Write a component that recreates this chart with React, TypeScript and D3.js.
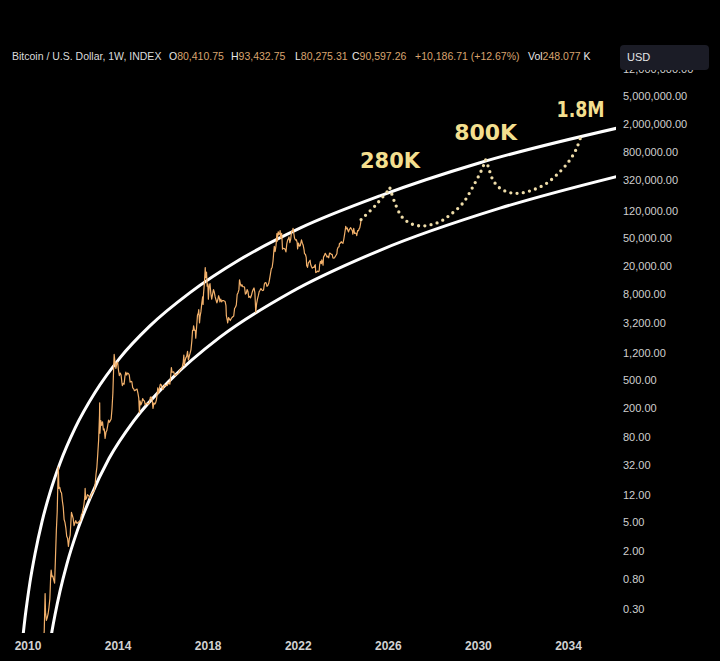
import React, { useEffect } from 'react';
import * as d3 from 'd3';

const W = 720;
const H = 661;

// Weekly-ish BTC/USD price history
const PRICE: [string, number][] = [
  ['2010-07-18', 0.06], ['2010-08-15', 0.07], ['2010-09-15', 0.06], ['2010-10-10', 0.1], ['2010-10-24', 0.15],
  ['2010-11-07', 0.5], ['2010-11-14', 0.27], ['2010-11-28', 0.21], ['2010-12-12', 0.23], ['2010-12-26', 0.26],
  ['2011-01-09', 0.32], ['2011-01-23', 0.42], ['2011-02-06', 0.9], ['2011-02-13', 1.07], ['2011-02-27', 0.86],
  ['2011-03-13', 0.88], ['2011-03-27', 0.78], ['2011-04-10', 0.7], ['2011-04-24', 1.6], ['2011-05-08', 3.8],
  ['2011-05-22', 7.0], ['2011-06-02', 18], ['2011-06-09', 30], ['2011-06-19', 15], ['2011-07-03', 15.5],
  ['2011-07-17', 13.5], ['2011-07-31', 13], ['2011-08-14', 10], ['2011-08-28', 8.2], ['2011-09-11', 5.5],
  ['2011-09-25', 5], ['2011-10-09', 4.2], ['2011-10-23', 3.2], ['2011-11-06', 3.0], ['2011-11-20', 2.3],
  ['2011-12-04', 2.9], ['2011-12-18', 3.3], ['2012-01-08', 6.9], ['2012-01-22', 6.3], ['2012-02-05', 5.7],
  ['2012-02-19', 4.5], ['2012-03-04', 4.9], ['2012-03-18', 5.3], ['2012-04-01', 4.9], ['2012-04-15', 4.9],
  ['2012-05-06', 5.1], ['2012-05-20', 5.1], ['2012-06-03', 5.3], ['2012-06-17', 6.4], ['2012-07-01', 6.7],
  ['2012-07-15', 7.6], ['2012-07-29', 9.0], ['2012-08-12', 11.5], ['2012-08-17', 15], ['2012-08-26', 10.5],
  ['2012-09-09', 11], ['2012-09-23', 12.3], ['2012-10-07', 12], ['2012-10-21', 11.6], ['2012-11-04', 10.8],
  ['2012-11-18', 11.8], ['2012-12-02', 12.6], ['2012-12-16', 13.3], ['2012-12-30', 13.5], ['2013-01-13', 14.2],
  ['2013-01-27', 17.5], ['2013-02-10', 24], ['2013-02-24', 30], ['2013-03-10', 46], ['2013-03-24', 72],
  ['2013-04-07', 160], ['2013-04-10', 240], ['2013-04-14', 90], ['2013-04-28', 135], ['2013-05-12', 116],
  ['2013-05-26', 130], ['2013-06-09', 100], ['2013-06-23', 103], ['2013-07-07', 76], ['2013-07-21', 93],
  ['2013-08-04', 98], ['2013-08-18', 115], ['2013-09-01', 137], ['2013-09-15', 128], ['2013-09-29', 135],
  ['2013-10-13', 142], ['2013-10-27', 200], ['2013-11-10', 330], ['2013-11-24', 820], ['2013-12-01', 1150],
  ['2013-12-15', 880], ['2013-12-29', 730], ['2014-01-12', 860], ['2014-01-26', 900], ['2014-02-09', 690],
  ['2014-02-23', 580], ['2014-03-09', 630], ['2014-03-23', 590], ['2014-04-06', 460], ['2014-04-13', 420],
  ['2014-04-27', 450], ['2014-05-11', 440], ['2014-05-25', 570], ['2014-06-08', 650], ['2014-06-22', 590],
  ['2014-07-06', 630], ['2014-07-20', 620], ['2014-08-03', 590], ['2014-08-17', 470], ['2014-08-31', 480],
  ['2014-09-14', 475], ['2014-09-28', 390], ['2014-10-12', 380], ['2014-10-26', 355], ['2014-11-09', 360],
  ['2014-11-23', 370], ['2014-12-07', 375], ['2014-12-21', 330], ['2015-01-04', 280], ['2015-01-14', 175],
  ['2015-01-25', 255], ['2015-02-08', 225], ['2015-02-22', 240], ['2015-03-08', 275], ['2015-03-22', 260],
  ['2015-04-05', 255], ['2015-04-19', 225], ['2015-05-03', 235], ['2015-05-17', 237], ['2015-05-31', 230],
  ['2015-06-14', 232], ['2015-06-28', 245], ['2015-07-12', 290], ['2015-07-26', 290], ['2015-08-09', 265],
  ['2015-08-23', 200], ['2015-09-06', 240], ['2015-09-20', 230], ['2015-10-04', 240], ['2015-10-18', 265],
  ['2015-11-01', 330], ['2015-11-08', 390], ['2015-11-22', 325], ['2015-12-06', 390], ['2015-12-20', 440],
  ['2016-01-03', 430], ['2016-01-17', 390], ['2016-01-31', 370], ['2016-02-14', 400], ['2016-02-28', 430],
  ['2016-03-13', 415], ['2016-03-27', 425], ['2016-04-10', 420], ['2016-04-24', 455], ['2016-05-08', 460],
  ['2016-05-22', 440], ['2016-06-05', 575], ['2016-06-16', 750], ['2016-06-26', 650], ['2016-07-10', 650],
  ['2016-07-24', 655], ['2016-08-07', 590], ['2016-08-21', 580], ['2016-09-04', 610], ['2016-09-18', 610],
  ['2016-10-02', 615], ['2016-10-16', 640], ['2016-10-30', 700], ['2016-11-13', 705], ['2016-11-27', 735],
  ['2016-12-11', 780], ['2016-12-25', 900], ['2017-01-04', 1130], ['2017-01-11', 800], ['2017-01-22', 920],
  ['2017-02-05', 1030], ['2017-02-19', 1080], ['2017-03-05', 1270], ['2017-03-19', 960], ['2017-04-02', 1090],
  ['2017-04-16', 1200], ['2017-04-30', 1350], ['2017-05-14', 1800], ['2017-05-25', 2500], ['2017-06-04', 2500],
  ['2017-06-11', 2900], ['2017-06-25', 2500], ['2017-07-09', 2500], ['2017-07-16', 1950], ['2017-07-30', 2800],
  ['2017-08-13', 4100], ['2017-08-27', 4400], ['2017-09-03', 4900], ['2017-09-15', 3200], ['2017-09-24', 3900],
  ['2017-10-08', 4600], ['2017-10-22', 6000], ['2017-11-05', 7400], ['2017-11-12', 5800], ['2017-11-19', 8200],
  ['2017-11-26', 9700], ['2017-12-03', 11500], ['2017-12-17', 19200], ['2017-12-24', 13800], ['2017-12-31', 14000],
  ['2018-01-07', 16500], ['2018-01-17', 10500], ['2018-01-28', 11200], ['2018-02-06', 6900], ['2018-02-18', 10400],
  ['2018-03-04', 11400], ['2018-03-18', 8200], ['2018-04-01', 6900], ['2018-04-15', 8100], ['2018-04-29', 9400],
  ['2018-05-13', 8600], ['2018-05-27', 7400], ['2018-06-10', 6700], ['2018-06-24', 6100], ['2018-07-08', 6700],
  ['2018-07-22', 7700], ['2018-08-05', 7000], ['2018-08-12', 6300], ['2018-08-26', 6900], ['2018-09-09', 6300],
  ['2018-09-23', 6600], ['2018-10-07', 6600], ['2018-10-21', 6500], ['2018-11-04', 6400], ['2018-11-18', 5600],
  ['2018-11-25', 4000], ['2018-12-09', 3500], ['2018-12-16', 3200], ['2018-12-30', 3800], ['2019-01-13', 3600],
  ['2019-01-27', 3450], ['2019-02-10', 3650], ['2019-02-24', 3800], ['2019-03-10', 3900], ['2019-03-24', 3990],
  ['2019-04-07', 5100], ['2019-04-21', 5300], ['2019-05-05', 5700], ['2019-05-19', 8000], ['2019-06-02', 8500],
  ['2019-06-16', 9300], ['2019-06-26', 12900], ['2019-07-07', 11500], ['2019-07-21', 10500], ['2019-08-04', 11000],
  ['2019-08-18', 10300], ['2019-09-01', 10300], ['2019-09-15', 10200], ['2019-09-29', 8100], ['2019-10-13', 8300],
  ['2019-10-27', 9400], ['2019-11-10', 8800], ['2019-11-24', 7300], ['2019-12-08', 7500], ['2019-12-22', 7200],
  ['2020-01-05', 7800], ['2020-01-19', 8700], ['2020-02-02', 9400], ['2020-02-16', 9900], ['2020-03-01', 8500],
  ['2020-03-15', 4500], ['2020-03-29', 5900], ['2020-04-12', 6900], ['2020-04-26', 7700], ['2020-05-10', 8800],
  ['2020-05-24', 9200], ['2020-06-07', 9700], ['2020-06-21', 9300], ['2020-07-05', 9100], ['2020-07-19', 9200],
  ['2020-08-02', 11200], ['2020-08-16', 11800], ['2020-08-30', 11700], ['2020-09-13', 10400], ['2020-09-27', 10700],
  ['2020-10-11', 11400], ['2020-10-25', 13100], ['2020-11-08', 15500], ['2020-11-22', 18400], ['2020-12-06', 19200],
  ['2020-12-20', 23500], ['2021-01-03', 33000], ['2021-01-10', 38000], ['2021-01-24', 32200], ['2021-02-07', 39000],
  ['2021-02-21', 57500], ['2021-02-28', 45000], ['2021-03-14', 61000], ['2021-03-28', 55800], ['2021-04-11', 59800],
  ['2021-04-14', 63500], ['2021-04-25', 50000], ['2021-05-09', 58000], ['2021-05-16', 46500], ['2021-05-23', 34700],
  ['2021-06-06', 35800], ['2021-06-20', 35500], ['2021-07-04', 34700], ['2021-07-18', 31800], ['2021-08-01', 41500],
  ['2021-08-15', 47000], ['2021-08-29', 48800], ['2021-09-05', 51700], ['2021-09-19', 42800], ['2021-10-03', 48200],
  ['2021-10-17', 61500], ['2021-10-24', 61000], ['2021-11-07', 65500], ['2021-11-10', 68000], ['2021-11-21', 58600],
  ['2021-12-05', 49400], ['2021-12-19', 46700], ['2022-01-02', 47300], ['2022-01-16', 43100], ['2022-01-23', 35000],
  ['2022-02-06', 42400], ['2022-02-20', 38300], ['2022-03-06', 38800], ['2022-03-27', 47000], ['2022-04-10', 42200],
  ['2022-04-24', 39400], ['2022-05-08', 34000], ['2022-05-15', 30000], ['2022-05-29', 29500], ['2022-06-12', 26600],
  ['2022-06-19', 20500], ['2022-07-03', 19300], ['2022-07-17', 22500], ['2022-07-31', 23300], ['2022-08-14', 24300],
  ['2022-08-21', 21500], ['2022-09-04', 19800], ['2022-09-18', 18800], ['2022-10-02', 19300], ['2022-10-16', 19200],
  ['2022-10-30', 20600], ['2022-11-06', 21000], ['2022-11-13', 16300], ['2022-11-27', 16500], ['2022-12-11', 17100],
  ['2022-12-25', 16800], ['2023-01-08', 17100], ['2023-01-15', 20900], ['2023-01-29', 23500], ['2023-02-12', 21800],
  ['2023-02-19', 24600], ['2023-03-05', 22400], ['2023-03-12', 20700], ['2023-03-19', 26900], ['2023-04-02', 28200],
  ['2023-04-16', 30400], ['2023-04-30', 28900], ['2023-05-14', 26900], ['2023-05-28', 27700], ['2023-06-11', 26300],
  ['2023-06-25', 30500], ['2023-07-09', 30300], ['2023-07-23', 29400], ['2023-08-06', 29400], ['2023-08-20', 26100],
  ['2023-09-03', 25900], ['2023-09-17', 26600], ['2023-10-01', 27900], ['2023-10-22', 30000], ['2023-10-29', 34500],
  ['2023-11-12', 37000], ['2023-11-26', 37500], ['2023-12-03', 42000], ['2023-12-17', 42300], ['2023-12-31', 44200],
  ['2024-01-14', 42800], ['2024-01-28', 42000], ['2024-02-11', 47800], ['2024-02-25', 57000], ['2024-03-10', 68500],
  ['2024-03-13', 73000], ['2024-03-24', 67200], ['2024-04-07', 69000], ['2024-04-14', 65000], ['2024-04-28', 60800],
  ['2024-05-05', 63800], ['2024-05-19', 67100], ['2024-06-02', 69600], ['2024-06-16', 66200], ['2024-06-30', 62700],
  ['2024-07-07', 56600], ['2024-07-21', 68000], ['2024-08-04', 58000], ['2024-08-18', 58600], ['2024-09-01', 57300],
  ['2024-09-08', 53900], ['2024-09-22', 63500], ['2024-10-06', 63000], ['2024-10-20', 68300], ['2024-10-27', 69500],
  ['2024-11-10', 80400], ['2024-11-17', 90600],
];

// Upper and lower channel curves
const UPPER_BAND: [string, number][] = [
  ['2009-11-04', 0.107], ['2009-11-29', 0.1685], ['2009-12-15', 0.2226], ['2010-01-17', 0.369], ['2010-03-06', 0.717],
  ['2010-05-27', 1.8], ['2010-09-17', 5.1], ['2011-01-25', 13.1], ['2011-07-06', 34.0], ['2012-03-05', 105],
  ['2013-01-24', 335], ['2014-03-05', 1029], ['2015-07-04', 2895], ['2017-04-14', 8500], ['2019-07-02', 24840],
  ['2022-03-02', 68600], ['2025-09-20', 195300], ['2030-02-28', 570300], ['2036-05-18', 1790000],
];
const LOWER_BAND: [string, number][] = [
  ['2011-01-25', 0.0997], ['2011-02-26', 0.147], ['2011-04-16', 0.249], ['2011-07-06', 0.535], ['2011-10-27', 1.31],
  ['2012-04-07', 3.71], ['2012-11-04', 10.9], ['2013-09-08', 39.5], ['2014-10-18', 135], ['2016-05-23', 497],
  ['2018-08-13', 2014], ['2021-09-21', 8490], ['2025-09-20', 33500], ['2031-01-18', 131000], ['2036-05-18', 375400],
];

// Dotted projection, split at the three cycle peaks
const PROJ_LEG1: [string, number][] = [['2024-11-17', 90600], ['2025-07-01', 141000], ['2026-03-01', 250000]];
const PROJ_LEG2: [string, number][] = [
  ['2026-03-01', 250000], ['2026-05-21', 155000], ['2026-09-07', 100000], ['2027-01-20', 80600], ['2027-07-01', 73800],
  ['2027-12-09', 76200], ['2028-05-20', 84800], ['2028-10-29', 105000], ['2029-05-28', 155000], ['2029-11-06', 263000],
  ['2030-03-27', 453000], ['2030-05-31', 626000],
];
const PROJ_LEG3: [string, number][] = [
  ['2030-05-31', 626000], ['2030-07-12', 504000], ['2030-09-26', 327000], ['2031-01-18', 250000], ['2031-06-29', 217000],
  ['2031-12-08', 213000], ['2032-07-06', 237000], ['2033-02-14', 294000], ['2033-09-17', 428000], ['2034-02-26', 626000],
  ['2034-06-15', 914000], ['2034-08-18', 1305000],
];

const PEAK_LABELS: { text: string; date: string; value: number; len: number }[] = [
  { text: '280K', date: '2026-03-01', value: 250000, len: 60 },
  { text: '800K', date: '2030-05-31', value: 626000, len: 63 },
  { text: '1.8M', date: '2034-08-18', value: 1305000, len: 48 },
];

const Y_TICKS = [0.3, 0.8, 2, 5, 12, 32, 80, 200, 500, 1200, 3200, 8000, 20000, 50000, 120000, 320000, 800000, 2000000, 5000000, 12000000];
const X_TICK_YEARS = [2010, 2014, 2018, 2022, 2026, 2030, 2034];

const HEADER: { text: string; kind: 'title' | 'key' | 'val' }[] = [
  { text: 'Bitcoin / U.S. Dollar, 1W, INDEX', kind: 'title' },
  { text: 'O', kind: 'key' }, { text: '80,410.75', kind: 'val' },
  { text: 'H', kind: 'key' }, { text: '93,432.75', kind: 'val' },
  { text: 'L', kind: 'key' }, { text: '80,275.31', kind: 'val' },
  { text: 'C', kind: 'key' }, { text: '90,597.26', kind: 'val' },
  { text: '+10,186.71 (+12.67%)', kind: 'val' },
  { text: 'Vol', kind: 'key' }, { text: '248.077', kind: 'val' }, { text: ' K', kind: 'key' },
];
const HEADER_X = [12, 169, null, 231, null, 295, null, 352, null, 415, 528, null, null];

const parse = (s: string) => new Date(s + 'T00:00:00Z');

export default function App() {
  useEffect(() => {
    document.body.style.margin = '0';
    document.body.style.background = '#000';
  }, []);

  const x = d3.scaleUtc().domain([parse('2010-01-01'), parse('2034-01-01')]).range([26, 566.5]);
  const y = d3.scaleLog().domain([0.3, 5e6]).range([609.3, 95.7]);

  const lineLin = d3.line<[string, number]>().x(d => x(parse(d[0]))).y(d => y(d[1]));
  const lineSmooth = d3
    .line<[string, number]>()
    .x(d => x(parse(d[0])))
    .y(d => y(d[1]))
    .curve(d3.curveCatmullRom.alpha(0.5));
  const lineBand = d3
    .line<[string, number]>()
    .x(d => x(parse(d[0])))
    .y(d => y(d[1]))
    .curve(d3.curveMonotoneX);

  const fmt = d3.format(',.2f');
  const font = '"Liberation Sans", Arial, Helvetica, sans-serif';

  return (
    <svg width={W} height={H} style={{ position: 'absolute', left: 0, top: 0, display: 'block', background: '#000' }}>
      <defs>
        <clipPath id="plot">
          <rect x={0} y={0} width={616} height={633} />
        </clipPath>
      </defs>
      <rect x={0} y={0} width={W} height={H} fill="#000" />

      <g clipPath="url(#plot)">
        <path d={lineBand(UPPER_BAND) || ''} fill="none" stroke="#ffffff" strokeWidth={3} strokeLinecap="round" />
        <path d={lineBand(LOWER_BAND) || ''} fill="none" stroke="#ffffff" strokeWidth={3} strokeLinecap="round" />
        <path d={lineLin(PRICE) || ''} fill="none" stroke="#f2b06a" strokeWidth={1.2} strokeLinejoin="round" />
        {[PROJ_LEG1, PROJ_LEG2, PROJ_LEG3].map((leg, i) => (
          <path
            key={i}
            d={lineSmooth(leg) || ''}
            fill="none"
            stroke="#eedca8"
            strokeWidth={3.3}
            strokeLinecap="round"
            strokeDasharray="0 6.3"
          />
        ))}
      </g>

      {PEAK_LABELS.map(l => (
        <text
          key={l.text}
          x={x(parse(l.date))}
          y={y(l.value) - 20}
          textAnchor="middle"
          fontFamily='"DejaVu Sans", sans-serif'
          fontWeight="bold"
          fontSize={21}
          fill="#f3df8f"
          textLength={l.len}
          lengthAdjust="spacingAndGlyphs"
        >
          {l.text}
        </text>
      ))}

      {/* price axis */}
      {Y_TICKS.map(v => (
        <text key={v} x={623} y={y(v)} dy="0.35em" fontFamily={font} fontSize={11} fill="#cfcfcf">
          {fmt(v)}
        </text>
      ))}

      {/* currency box */}
      <rect x={620} y={45} width={89} height={25} rx={4} fill="#1b1c26" />
      <text x={627} y={61} fontFamily={font} fontSize={11} fill="#e6e6e6">USD</text>

      {/* time axis */}
      {X_TICK_YEARS.map(yr => (
        <text
          key={yr}
          x={x(parse(`${yr}-01-01`)) + 2}
          y={650}
          textAnchor="middle"
          fontFamily={font}
          fontWeight="bold"
          fontSize={12}
          fill="#d2d2d2"
        >
          {yr}
        </text>
      ))}

      {/* header */}
      <text y={60} fontFamily={font} fontSize={10.5}>
        {HEADER.map((h, i) => (
          <tspan
            key={i}
            x={HEADER_X[i] ?? undefined}
            fill={h.kind === 'val' ? '#d9a46f' : h.kind === 'title' ? '#dcdcdc' : '#e8e8e8'}
          >
            {h.text}
          </tspan>
        ))}
      </text>
    </svg>
  );
}
